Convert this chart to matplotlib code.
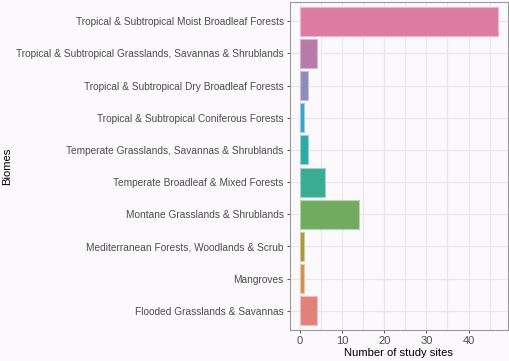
import matplotlib.pyplot as plt
import numpy as np

plt.rcParams["font.family"] = ["Liberation Sans", "DejaVu Sans"]

biomes = [
    "Tropical & Subtropical Moist Broadleaf Forests",
    "Tropical & Subtropical Grasslands, Savannas & Shrublands",
    "Tropical & Subtropical Dry Broadleaf Forests",
    "Tropical & Subtropical Coniferous Forests",
    "Temperate Grasslands, Savannas & Shrublands",
    "Temperate Broadleaf & Mixed Forests",
    "Montane Grasslands & Shrublands",
    "Mediterranean Forests, Woodlands & Scrub",
    "Mangroves",
    "Flooded Grasslands & Savannas",
]
sites = [47, 4, 2, 1, 2, 6, 14, 1, 1, 4]
colors = [
    "#DC7CA2", "#B77BA8", "#8E8DBA", "#3A9FCB", "#2EAAA5",
    "#3AAC92", "#72AB60", "#A39A3E", "#CF9150", "#E0817C",
]
edges = [
    "#F0B8CE", "#D9B4D0", "#C4C3DD", "#9DCFE5", "#97D4D2",
    "#9DD5C8", "#B8D5AF", "#D1CC9E", "#E7C8A7", "#F0C0BD",
]

BG = "#FCF9FC"
GRID = "#EBE8EB"
TXT = "#4D4D4D"

fig = plt.figure(figsize=(5.10, 3.61), dpi=100, facecolor=BG)
ax = fig.add_axes([290 / 510, 31 / 361, 218 / 510, 328 / 361], facecolor=BG)

y = np.arange(len(biomes))[::-1]
ax.barh(y, sites, height=0.9, color=colors, edgecolor=edges, linewidth=0.8, zorder=3)

ax.set_xlim(-2.35, 49.35)
ax.set_ylim(-0.6, len(biomes) - 0.4)
ax.set_yticks(y)
ax.set_yticklabels(biomes)
ax.set_xticks([0, 10, 20, 30, 40])
ax.set_xticks([5, 15, 25, 35, 45], minor=True)

ax.grid(True, which="both", axis="x", color=GRID, lw=0.9, zorder=0)
ax.grid(True, which="major", axis="y", color=GRID, lw=0.9, zorder=0)

for s in ax.spines.values():
    s.set_color("#9A9A9A")
    s.set_linewidth(0.8)

ax.tick_params(axis="both", which="major", colors="#555555", labelcolor=TXT,
               labelsize=7.3, length=2.5, width=0.7, pad=2)
ax.tick_params(axis="x", labelsize=8)
ax.tick_params(axis="x", which="minor", length=0)

ax.set_xlabel("Number of study sites", fontsize=8.1, color="black", labelpad=1.5)
ax.set_ylabel("Biomes", fontsize=8.1, color="black")
ax.yaxis.set_label_coords((12 - 290) / 218, 0.5)

fig.savefig("out.png", dpi=100, facecolor=BG)
